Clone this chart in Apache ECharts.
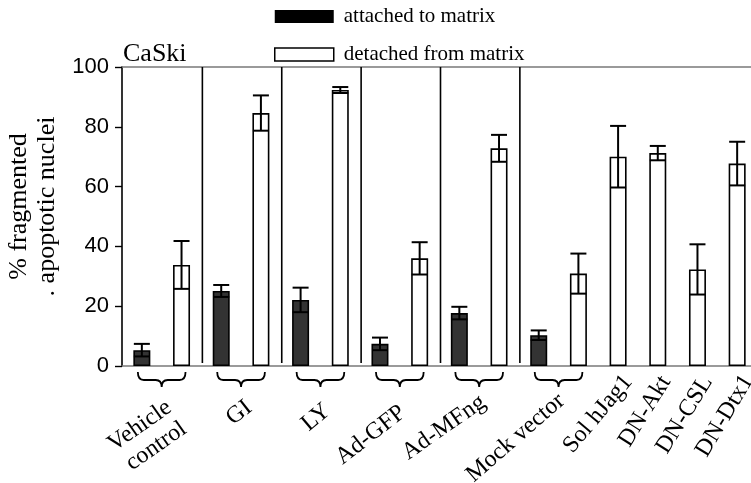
<!DOCTYPE html>
<html>
<head>
<meta charset="utf-8">
<script src="https://cdn.jsdelivr.net/npm/echarts@6/dist/echarts.min.js"></script>
<style>
  html, body { margin: 0; padding: 0; background: #fff; }
  #chart { width: 751px; height: 483px; }
</style>
</head>
<body>
<div id="chart"></div>
<script>
// Treatment groups and measured apoptosis (% fragmented nuclei, mean and error)
const groups = ['Vehicle\ncontrol', 'GI', 'LY', 'Ad-GFP', 'Ad-MFng', 'Mock vector',
                'Sol hJag1', 'DN-Akt', 'DN-CSL', 'DN-Dtx1'];
const attached    = [5.3, 25.1, 22.1, 7.4, 17.7, 10.3, null, null, null, null];
const attachedErr = [2.1, 2.0, 4.1, 2.1, 2.1, 1.6, null, null, null, null];
const detached    = [33.8, 84.6, 92.3, 36.0, 72.8, 30.9, 70.0, 71.2, 32.3, 67.7];
const detachedErr = [8.0, 5.9, 1.0, 5.4, 4.5, 6.7, 10.3, 2.4, 8.4, 7.3];
const seriesNames = ['attached to matrix', 'detached from matrix'];
const yTickStep = 20;
const yMax = 100;

// Placement of the slanted group labels: pixel shift of the label end from the
// group centre on the zero line, and the slant angle in degrees
const labelShift = [[15, 50], [8, 39], [7, 42], [3, 44], [4, 34], [3, 32],
                    [10, 12], [8, 12], [10, 12], [11, 11]];
const labelAngle = [35, 38, 40, 38, 35, 41, 50, 58, 58, 59];
// Vertical rules are drawn after these groups
const ruleAfter = [0, 1, 2, 3, 4];

const SERIF = 'Liberation Serif';
const SANS = 'Liberation Sans';

// One x slot per bar
const slots = [];
groups.forEach((g, i) => {
  if (attached[i] != null) slots.push({ g: i, k: 0 });
  slots.push({ g: i, k: 1 });
});
const slotNames = slots.map((s, i) => 's' + i);
const attachedData = slots.map(s => (s.k === 0 ? attached[s.g] : null));
const detachedData = slots.map(s => (s.k === 1 ? detached[s.g] : null));
const errData = slots.map((s, i) => s.k === 0
  ? [i, attached[s.g], attachedErr[s.g]]
  : [i, detached[s.g], detachedErr[s.g]]);
const groupSpan = groups.map((g, gi) => {
  const idx = slots.map((s, j) => (s.g === gi ? j : -1)).filter(j => j >= 0);
  return [idx[0], idx[idx.length - 1], gi];
});
const ruleData = ruleAfter.map(gi => [groupSpan[gi][1], 0]);

const chart = echarts.init(document.getElementById('chart'), null, { renderer: 'canvas' });

const barStyle = (fill) => ({ color: fill, borderColor: '#000', borderWidth: 1.6 });

chart.setOption({
  animation: false,
  backgroundColor: '#fff',
  title: {
    text: 'CaSki', left: 118, top: 36,
    textStyle: { fontFamily: SERIF, fontSize: 26, fontWeight: 'normal', color: '#000' }
  },
  legend: {
    orient: 'vertical', left: 274, top: 6, padding: 0,
    itemWidth: 59, itemHeight: 13, itemGap: 17,
    icon: 'rect', selectedMode: false,
    textStyle: { fontFamily: SERIF, fontSize: 21, color: '#000', lineHeight: 20, padding: [0, 0, 0, 5] },
    data: [
      { name: seriesNames[0], itemStyle: { color: '#000', borderWidth: 0 } },
      { name: seriesNames[1], itemStyle: { color: '#fff', borderColor: '#000', borderWidth: 1.5 } }
    ]
  },
  grid: { left: 122, right: -6, top: 67, bottom: 117, containLabel: false, outerBoundsMode: 'none' },
  xAxis: [
    {
      type: 'category', data: slotNames, position: 'bottom',
      axisLine: { lineStyle: { color: '#7a7a7a', width: 1.6 } },
      axisTick: { show: false }, axisLabel: { show: false }, splitLine: { show: false }
    },
    {
      type: 'category', data: slotNames, position: 'top',
      axisLine: { lineStyle: { color: '#7a7a7a', width: 1.6 } },
      axisTick: { show: false }, axisLabel: { show: false }, splitLine: { show: false }
    }
  ],
  yAxis: {
    type: 'value', min: 0, max: yMax, interval: yTickStep,
    axisLine: { show: true, lineStyle: { color: '#000', width: 1.6 } },
    axisTick: { show: true, length: 7, lineStyle: { color: '#000', width: 1.4 } },
    axisLabel: { fontFamily: SANS, fontSize: 22, color: '#000', margin: 13 },
    splitLine: { show: false },
    name: '% fragmented\n. apoptotic nuclei',
    nameLocation: 'middle', nameRotate: 90, nameGap: 50,
    nameTextStyle: { fontFamily: SERIF, fontSize: 26, color: '#000', lineHeight: 28, padding: [0, 0, 0, 20] }
  },
  series: [
    {
      name: seriesNames[0], type: 'bar', data: attachedData,
      barWidth: 17, barGap: '-100%', itemStyle: barStyle('#333'), z: 2
    },
    {
      name: seriesNames[1], type: 'bar', data: detachedData,
      barWidth: 17, barGap: '-100%', itemStyle: barStyle('#fff'), z: 2
    },
    {
      // error bars with caps at both ends
      type: 'custom', name: 'err', data: errData, z: 5, silent: true,
      renderItem(params, api) {
        const x = api.value(0), v = api.value(1), e = api.value(2);
        const top = api.coord([x, v + e]);
        const bot = api.coord([x, v - e]);
        const hw = 8;
        const st = { stroke: '#000', lineWidth: 2 };
        return {
          type: 'group', children: [
            { type: 'line', shape: { x1: top[0], y1: top[1], x2: bot[0], y2: bot[1] }, style: st },
            { type: 'line', shape: { x1: top[0] - hw, y1: top[1], x2: top[0] + hw, y2: top[1] }, style: st },
            { type: 'line', shape: { x1: bot[0] - hw, y1: bot[1], x2: bot[0] + hw, y2: bot[1] }, style: st }
          ]
        };
      }
    },
    {
      // vertical rules separating treatment blocks
      type: 'custom', name: 'rules', data: ruleData, z: 3, silent: true,
      renderItem(params, api) {
        const band = api.size([1, 0])[0];
        const p0 = api.coord([api.value(0), yMax]);
        const p1 = api.coord([api.value(0), 1]);
        const x = p0[0] + band / 2 + 1;
        return { type: 'line', shape: { x1: x, y1: p0[1], x2: x, y2: p1[1] },
                 style: { stroke: '#000', lineWidth: 1.6 } };
      }
    },
    {
      // braces under paired bars and the slanted group labels
      type: 'custom', name: 'groups', data: groupSpan, z: 4, silent: true, clip: false,
      renderItem(params, api) {
        const first = api.value(0), last = api.value(1), gi = api.value(2);
        const a = api.coord([first, 0]);
        const b = api.coord([last, 0]);
        const cx = (a[0] + b[0]) / 2;
        const y0 = a[1];
        const children = [];
        if (last > first) {
          const half = (b[0] - a[0]) / 2 + 4;
          const L = cx - half, R = cx + half;
          const yt = y0 + 6, ym = y0 + 14, yb = y0 + 21, r = 6;
          const d = `M${L},${yt} Q${L},${ym} ${L + r},${ym} L${cx - r},${ym} Q${cx},${ym} ${cx},${yb} ` +
                    `Q${cx},${ym} ${cx + r},${ym} L${R - r},${ym} Q${R},${ym} ${R},${yt}`;
          children.push({ type: 'path', shape: { pathData: d },
                          style: { stroke: '#000', lineWidth: 1.8, fill: null } });
        }
        const sh = labelShift[gi];
        children.push({
          type: 'text',
          x: cx + sh[0], y: y0 + sh[1],
          rotation: labelAngle[gi] * Math.PI / 180,
          style: {
            text: groups[gi], x: 0, y: 0, align: 'right', verticalAlign: 'middle',
            fontFamily: SERIF, fontSize: 24, lineHeight: 26, fill: '#000'
          }
        });
        return { type: 'group', children };
      }
    }
  ]
});
</script>
</body>
</html>
